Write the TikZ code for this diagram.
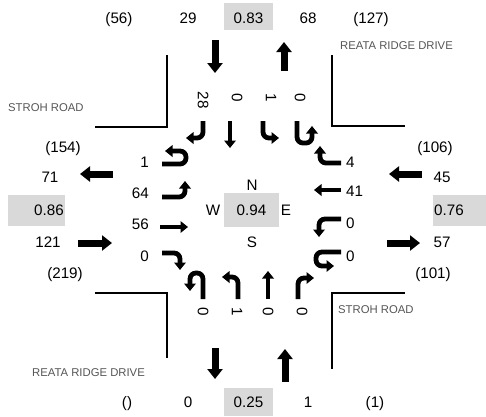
\documentclass[tikz,border=0pt]{standalone}
\usepackage{fontspec}
\setmainfont{Liberation Sans}
\usetikzlibrary{arrows.meta}
\definecolor{boxgray}{RGB}{217,217,217}
\definecolor{roadgray}{RGB}{85,85,85}

\begin{document}
\begin{tikzpicture}[x=1pt, y=-1pt,
    lbl/.style={font=\fontsize{15.2}{17}\selectfont, inner sep=0pt},
    roadname/.style={font=\fontsize{11.3}{13}\selectfont, text=roadgray, inner sep=0pt},
    curb/.style={line width=1.6pt},
    bigarrow/.style={line width=7pt, -{Triangle[width=15pt,length=10pt]}},
    turnarrow/.style={line width=4.8pt, rounded corners=6pt, -{Triangle[width=11.5pt,length=7.5pt]}}]

    \useasboundingbox (0,0) rectangle (486,416);

    % Grauflaechen der Kennwerte
    \fill[boxgray] (224,3) rectangle (273,30);
    \fill[boxgray] (224,388) rectangle (273,416);
    \fill[boxgray] (8,195) rectangle (65,226);
    \fill[boxgray] (433,195) rectangle (486,226);
    \fill[boxgray] (224,193) rectangle (279,227);

    % Bordsteinkanten
    \draw[curb] (167,55) -- (167,127) -- (95,127);
    \draw[curb] (332,55) -- (332,126) -- (405,126);
    \draw[curb] (95,293) -- (167,293) -- (167,358);
    \draw[curb] (405,293) -- (332,293) -- (332,369);

    % Strassennamen
    \node[roadname, anchor=base west] (rdNE) at (340,49) {REATA RIDGE DRIVE};
    \node[roadname, anchor=base west] (rdW) at (8,111) {STROH ROAD};
    \node[roadname, anchor=base west] (rdE) at (338,313) {STROH ROAD};
    \node[roadname, anchor=base east] (rdSW) at (145,376) {REATA RIDGE DRIVE};

    % Nordarm
    \node[lbl, anchor=base] (nPeak1) at (119,23.5) {(56)};
    \node[lbl, anchor=base] (nIn) at (188,23.5) {29};
    \node[lbl, anchor=base] (nPhf) at (248.5,23.5) {0.83};
    \node[lbl, anchor=base] (nOut) at (308,23.5) {68};
    \node[lbl, anchor=base] (nPeak2) at (371,23.5) {(127)};
    \draw[bigarrow] (215,40) -- (215,73);
    \draw[bigarrow] (284,71) -- (284,42);

    % Suedarm
    \node[lbl, anchor=base] (sPeak1) at (127,407.5) {()};
    \node[lbl, anchor=base] (sOut) at (188,407.5) {0};
    \node[lbl, anchor=base] (sPhf) at (248.5,407.5) {0.25};
    \node[lbl, anchor=base] (sIn) at (308,407.5) {1};
    \node[lbl, anchor=base] (sPeak2) at (375,407.5) {(1)};
    \draw[bigarrow] (215,348) -- (215,379);
    \draw[bigarrow] (285,382) -- (285,349);

    % Westarm
    \node[lbl, anchor=base] (wPeak1) at (63,152.5) {(154)};
    \node[lbl, anchor=base] (wOut) at (50,182.5) {71};
    \node[lbl, anchor=base east] (wPhf) at (64,215.5) {0.86};
    \node[lbl, anchor=base] (wIn) at (48,247.5) {121};
    \node[lbl, anchor=base] (wPeak2) at (65,278.5) {(219)};
    \draw[bigarrow] (113,174) -- (80,174);
    \draw[bigarrow] (78,243) -- (112,243);

    % Ostarm
    \node[lbl, anchor=base] (ePeak1) at (435,152.5) {(106)};
    \node[lbl, anchor=base] (eIn) at (442,182.5) {45};
    \node[lbl, anchor=base west] (ePhf) at (434,215.5) {0.76};
    \node[lbl, anchor=base] (eOut) at (442,247.5) {57};
    \node[lbl, anchor=base] (ePeak2) at (433,278.5) {(101)};
    \draw[bigarrow] (422,174) -- (389,174);
    \draw[bigarrow] (387,243) -- (420,243);

    % Knotenpunkt
    \node[lbl, anchor=base] (cN) at (252,190.5) {N};
    \node[lbl, anchor=base] (cW) at (213,215.5) {W};
    \node[lbl, anchor=base] (cPhf) at (251.5,215.5) {0.94};
    \node[lbl, anchor=base] (cE) at (286,215.5) {E};
    \node[lbl, anchor=base] (cS) at (252,247.5) {S};

    % Stroeme Nordzufahrt
    \node[lbl, rotate=-90] (sbR) at (203,100) {28};
    \node[lbl, rotate=-90] (sbT) at (237,98) {0};
    \node[lbl, rotate=-90] (sbL) at (271,98) {1};
    \node[lbl, rotate=-90] (sbU) at (300,98) {0};
    \draw[turnarrow] (203,121) -- (203,138) -- (186,138);
    \draw[turnarrow] (230,121) -- (230,148);
    \draw[turnarrow] (263,121) -- (263,138) -- (279,138);
    \draw[turnarrow] (297,121) -- (297,143) -- (312,143) -- (312,126);

    % Stroeme Ostzufahrt
    \node[lbl, anchor=base west] (wbR) at (346,167.5) {4};
    \node[lbl, anchor=base west] (wbT) at (346,196.5) {41};
    \node[lbl, anchor=base west] (wbL) at (346,228.5) {0};
    \node[lbl, anchor=base west] (wbU) at (346,261.5) {0};
    \draw[turnarrow] (341,163) -- (320,163) -- (320,146);
    \draw[turnarrow] (341,190) -- (314,190);
    \draw[turnarrow] (341,219) -- (319,219) -- (319,237);
    \draw[turnarrow] (341,252) -- (316,252) -- (316,266) -- (334,266);

    % Stroeme Westzufahrt
    \node[lbl, anchor=base east] (ebU) at (149,167.5) {1};
    \node[lbl, anchor=base east] (ebL) at (149,198.5) {64};
    \node[lbl, anchor=base east] (ebT) at (149,229.5) {56};
    \node[lbl, anchor=base east] (ebR) at (149,261.5) {0};
    \draw[turnarrow] (162,164) -- (186,164) -- (186,151) -- (165,151);
    \draw[turnarrow] (162,197) -- (185,197) -- (185,181);
    \draw[turnarrow] (160,227) -- (188,227);
    \draw[turnarrow] (162,253) -- (180,253) -- (180,270);

    % Stroeme Suedzufahrt
    \node[lbl, rotate=-90] (nbU) at (203,312) {0};
    \node[lbl, rotate=-90] (nbL) at (237,312) {1};
    \node[lbl, rotate=-90] (nbT) at (268,312) {0};
    \node[lbl, rotate=-90] (nbR) at (302,312) {0};
    \draw[turnarrow] (203,299) -- (203,273) -- (190,273) -- (190,291);
    \draw[turnarrow] (238,299) -- (238,277) -- (222,277);
    \draw[turnarrow] (268,299) -- (268,271);
    \draw[turnarrow] (298,299) -- (298,278) -- (314,278);

\end{tikzpicture}
\end{document}
